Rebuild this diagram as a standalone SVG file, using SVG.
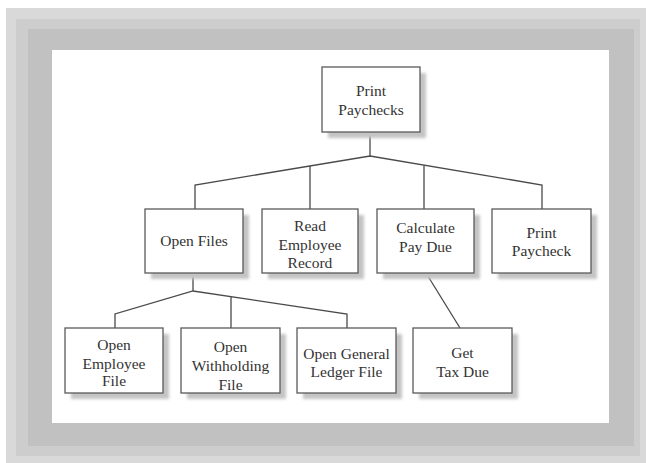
<svg xmlns="http://www.w3.org/2000/svg" width="646" height="463" viewBox="0 0 646 463">
  <defs>
    <filter id="sh" x="-10%" y="-10%" width="130%" height="130%">
      <feGaussianBlur stdDeviation="1.6"/>
    </filter>
    <style>
      .box { fill: #ffffff; stroke: #5a5a5a; stroke-width: 1.3; }
      .shadow { fill: #c4c4c4; filter: url(#sh); }
      .lbl { font-family: "Liberation Serif", "Times New Roman", serif; font-size: 15.5px; fill: #333333; text-anchor: middle; }
      .conn { fill: none; stroke: #4a4a4a; stroke-width: 1.3; }
    </style>
  </defs>

  <!-- frame -->
  <rect x="0" y="0" width="646" height="463" fill="#ffffff"/>
  <rect x="6" y="8" width="640" height="455" fill="#d9d9d9"/>
  <rect x="16" y="19" width="624" height="437" fill="#cdcdcd"/>
  <rect x="28" y="29" width="606" height="417" fill="#c1c1c1"/>
  <rect x="52" y="50" width="557" height="373" fill="#ffffff"/>

  <!-- connectors -->
  <g id="connectors" class="conn">
    <polyline points="370,132 370,156"/>
    <polyline points="195,209 195,185 370,156 542,185 542,209"/>
    <line x1="310" y1="166" x2="310" y2="209"/>
    <line x1="424" y1="165.5" x2="424" y2="209"/>
    <polyline points="193,274 193,291"/>
    <polyline points="115,328 115,314 193,291 347,314 347,328"/>
    <line x1="231" y1="297" x2="231" y2="328"/>
    <line x1="426" y1="273" x2="460" y2="328"/>
  </g>

  <g id="print-paychecks">
    <rect class="shadow" x="328" y="73" width="98" height="65"/>
    <rect class="box" x="322" y="67" width="98" height="65"/>
    <text class="lbl" x="371" y="96">Print</text>
    <text class="lbl" x="371" y="115">Paychecks</text>
  </g>

  <g id="open-files">
    <rect class="shadow" x="151" y="215" width="98" height="64"/>
    <rect class="box" x="145" y="209" width="98" height="64"/>
    <text class="lbl" x="194" y="246">Open Files</text>
  </g>

  <g id="read-employee-record">
    <rect class="shadow" x="268" y="215" width="96" height="64"/>
    <rect class="box" x="262" y="209" width="96" height="64"/>
    <text class="lbl" x="310" y="231">Read</text>
    <text class="lbl" x="310" y="250">Employee</text>
    <text class="lbl" x="310" y="268">Record</text>
  </g>

  <g id="calculate-pay-due">
    <rect class="shadow" x="383" y="215" width="97" height="64"/>
    <rect class="box" x="377" y="209" width="97" height="64"/>
    <text class="lbl" x="425.5" y="233">Calculate</text>
    <text class="lbl" x="425.5" y="251.5">Pay Due</text>
  </g>

  <g id="print-paycheck">
    <rect class="shadow" x="498" y="215" width="99" height="64"/>
    <rect class="box" x="492" y="209" width="99" height="64"/>
    <text class="lbl" x="541.5" y="238">Print</text>
    <text class="lbl" x="541.5" y="256">Paycheck</text>
  </g>

  <g id="open-employee-file">
    <rect class="shadow" x="71" y="334" width="98" height="65"/>
    <rect class="box" x="65" y="328" width="98" height="65"/>
    <text class="lbl" x="114" y="350">Open</text>
    <text class="lbl" x="114" y="368.5">Employee</text>
    <text class="lbl" x="114" y="386">File</text>
  </g>

  <g id="open-withholding-file">
    <rect class="shadow" x="187" y="334" width="99" height="65"/>
    <rect class="box" x="181" y="328" width="99" height="65"/>
    <text class="lbl" x="230.5" y="352">Open</text>
    <text class="lbl" x="230.5" y="371">Withholding</text>
    <text class="lbl" x="230.5" y="390">File</text>
  </g>

  <g id="open-general-ledger-file">
    <rect class="shadow" x="303" y="334" width="99" height="65"/>
    <rect class="box" x="297" y="328" width="99" height="65"/>
    <text class="lbl" x="346.5" y="359">Open General</text>
    <text class="lbl" x="346.5" y="377">Ledger File</text>
  </g>

  <g id="get-tax-due">
    <rect class="shadow" x="419" y="334" width="99" height="65"/>
    <rect class="box" x="413" y="328" width="99" height="65"/>
    <text class="lbl" x="462.5" y="358">Get</text>
    <text class="lbl" x="462.5" y="377">Tax Due</text>
  </g>
</svg>
